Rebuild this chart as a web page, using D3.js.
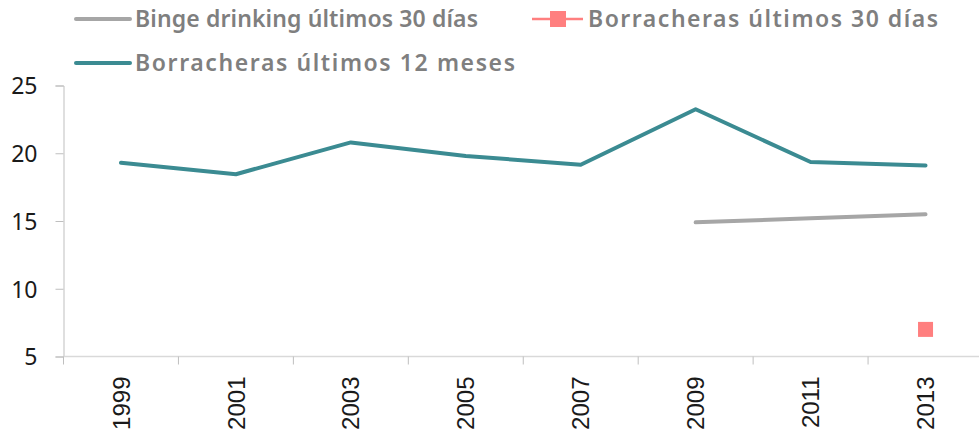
<!DOCTYPE html>
<html>
<head>
<meta charset="utf-8">
<script src="https://cdn.jsdelivr.net/npm/d3@7"></script>
<style>
  body { margin: 0; background: #fff; }
  svg { display: block; }
</style>
</head>
<body>
<div id="chart"></div>
<script>
var years = ["1999", "2001", "2003", "2005", "2007", "2009", "2011", "2013"];
var binge30 = [null, null, null, null, null, 14.9, 15.2, 15.5];
var borr30 = [null, null, null, null, null, null, null, 7.0];
var borr12 = [19.3, 18.45, 20.8, 19.8, 19.15, 23.25, 19.35, 19.1];
var yTicks = [5, 10, 15, 20, 25];

var W = 979, H = 436;
var margin = {top: 85.5, right: -4, bottom: 79.5, left: 63.5};
var width = W - margin.left - margin.right,
    height = H - margin.top - margin.bottom;

var svg = d3.select("#chart").append("svg")
    .attr("width", W)
    .attr("height", H);

var g = svg.append("g")
    .attr("transform", "translate(" + margin.left + "," + margin.top + ")");

var x = d3.scaleBand().domain(years).range([0, width]);
var y = d3.scaleLinear().domain([5, 25]).range([height, 0]);

// y axis
var yAxis = g.append("g")
    .call(d3.axisLeft(y).tickValues(yTicks).tickSize(8).tickPadding(18));
yAxis.select(".domain").attr("stroke", "#bfbfbf");
yAxis.selectAll(".tick line").attr("stroke", "#bfbfbf");
yAxis.selectAll(".tick text")
    .attr("fill", "#1a1a1a")
    .style("font-family", "'Noto Sans', sans-serif")
    .style("font-size", "23px")
    .attr("dy", "0.36em");

// x axis, ticks sit on the band edges
var xAxis = g.append("g")
    .attr("transform", "translate(0," + height + ")");
xAxis.append("line")
    .attr("x1", 0).attr("x2", width)
    .attr("stroke", "#d9d9d9").attr("stroke-width", 1.5);
xAxis.selectAll(".xt")
    .data(years)
    .enter().append("line")
    .attr("x1", d => x(d)).attr("x2", d => x(d))
    .attr("y1", 0).attr("y2", 8)
    .attr("stroke", "#bfbfbf");
xAxis.selectAll(".xl")
    .data(years)
    .enter().append("text")
    .attr("transform", d => "translate(" + (x(d) + x.bandwidth() / 2) + ",20) rotate(-90)")
    .attr("text-anchor", "end")
    .attr("dy", "0.36em")
    .attr("fill", "#1a1a1a")
    .style("font-family", "'Liberation Sans', Arial, sans-serif")
    .style("font-size", "24px")
    .text(d => d);

var line = d3.line()
    .defined(d => d != null)
    .x((d, i) => x(years[i]) + x.bandwidth() / 2)
    .y(d => y(d));

g.append("path")
    .datum(binge30)
    .attr("fill", "none")
    .attr("stroke", "#a6a6a6")
    .attr("stroke-width", 4)
    .attr("stroke-linecap", "round")
    .attr("d", line);

g.append("path")
    .datum(borr12)
    .attr("fill", "none")
    .attr("stroke", "#3b8b92")
    .attr("stroke-width", 4)
    .attr("stroke-linecap", "round")
    .attr("stroke-linejoin", "round")
    .attr("d", line);

g.selectAll(".sq")
    .data(borr30.map((v, i) => ({v: v, yr: years[i]})).filter(d => d.v != null))
    .enter().append("rect")
    .attr("x", d => x(d.yr) + x.bandwidth() / 2 - 7.5)
    .attr("y", d => y(d.v) - 7.5)
    .attr("width", 15).attr("height", 15)
    .attr("fill", "#ff7f7f");

// legend
var legend = [
  {name: "Binge drinking últimos 30 días", color: "#a6a6a6", x: 76, y: 19, marker: false, len: 343},
  {name: "Borracheras últimos 30 días", color: "#ff7f7f", x: 532, y: 19, marker: true, len: 350},
  {name: "Borracheras últimos 12 meses", color: "#3b8b92", x: 76, y: 63, marker: false, len: 380}
];
var lg = svg.selectAll(".lg").data(legend).enter().append("g")
    .attr("transform", d => "translate(" + d.x + "," + d.y + ")");
lg.append("line")
    .attr("x1", 0).attr("x2", d => d.marker ? 51 : 54)
    .attr("stroke", d => d.color)
    .attr("stroke-width", d => d.marker ? 2.5 : 4)
    .attr("stroke-linecap", d => d.marker ? "butt" : "round");
lg.filter(d => d.marker).append("rect")
    .attr("x", 18).attr("y", -8).attr("width", 16).attr("height", 16)
    .attr("fill", d => d.color);
lg.append("text")
    .attr("x", d => d.marker ? 56 : 59)
    .attr("dy", "0.36em")
    .attr("fill", "#7f7f7f")
    .style("font-family", "'Noto Sans', sans-serif")
    .style("font-weight", "600")
    .style("font-size", "23px")
    .attr("textLength", d => d.len)
    .attr("lengthAdjust", "spacing")
    .text(d => d.name);
</script>
</body>
</html>
